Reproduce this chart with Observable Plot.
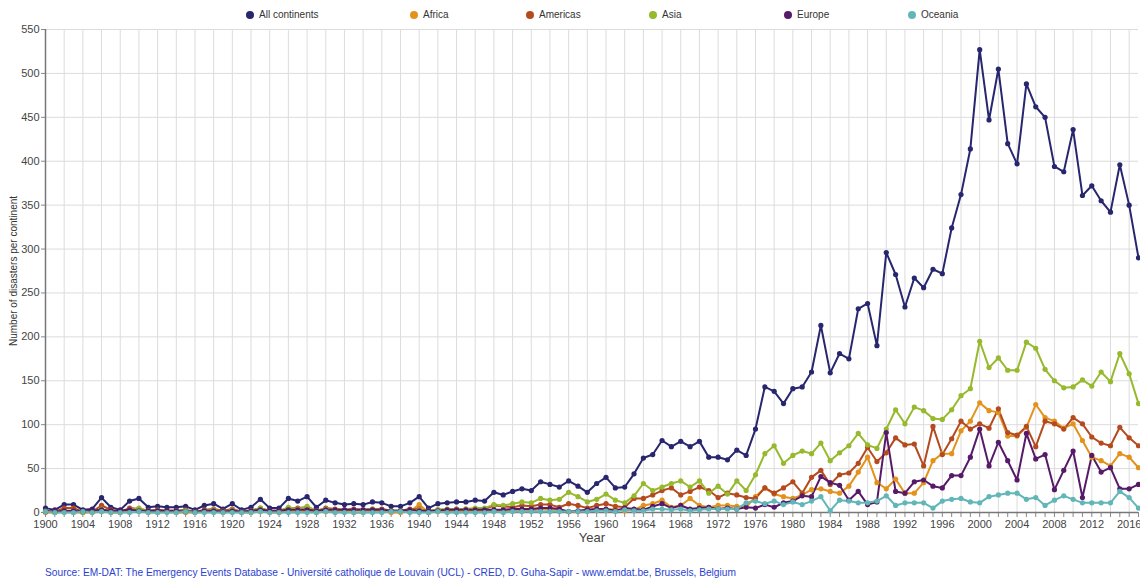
<!DOCTYPE html>
<html><head><meta charset="utf-8">
<script src="https://cdn.jsdelivr.net/npm/d3@7"></script>
<script src="https://cdn.jsdelivr.net/npm/@observablehq/plot@0.6"></script>
<style>
body{margin:0;background:#fff;font-family:"Liberation Sans",Arial,sans-serif;}
#wrap{position:relative;width:1140px;height:580px;overflow:hidden;background:#fff}
#legend{position:absolute;top:0;left:0;width:1140px;height:28px}
.li{position:absolute;top:9px;font-size:10px;color:#333;display:flex;align-items:center;white-space:nowrap;line-height:12px}
.li .dot{width:8px;height:8px;border-radius:50%;margin-right:5px;display:inline-block}
#chart{position:absolute;top:22px;left:0}
#source{position:absolute;left:45px;top:567px;font-size:10.2px;color:#2b3fd0;white-space:nowrap}
</style></head>
<body><div id="wrap"><div id="legend"></div><div id="chart"></div>
<div id="source">Source: EM-DAT: The Emergency Events Database - Université catholique de Louvain (UCL) - CRED, D. Guha-Sapir - www.emdat.be, Brussels, Belgium</div></div>
<script>
const years = d3.range(1900, 2018);
const seriesNames = ["All continents", "Africa", "Americas", "Asia", "Europe", "Oceania"];
const seriesColors = ["#27266e", "#e3921c", "#b54a1f", "#97b92d", "#561a68", "#62b6b8"];

const allContinents = [
  5,3,9,9,3,4,17,6,3,13,
  16,6,7,6,6,7,3,8,10,4,
  10,3,6,15,5,5,16,13,18,6,
  14,11,9,10,9,12,11,7,7,11,
  18,5,10,11,12,12,14,13,23,20,
  24,27,25,35,32,29,36,30,23,33,
  40,28,29,44,62,66,82,75,81,75,
  81,63,63,60,71,65,95,143,138,124,
  141,143,160,213,159,181,175,232,238,190,
  296,271,234,267,256,277,272,324,362,414,
  527,447,505,420,397,488,462,450,394,388,
  436,361,372,355,342,396,350,290
];
const africa = [
  0,0,1,0,0,0,1,0,0,2,
  4,0,0,1,0,0,0,1,1,0,
  1,0,0,1,0,0,2,1,2,0,
  1,1,1,0,0,1,1,0,0,1,
  9,0,1,1,1,1,2,1,2,2,
  3,2,2,4,3,3,1,1,2,4,
  3,4,2,3,8,10,14,6,8,16,
  8,6,8,8,7,6,18,28,21,18,
  16,20,26,27,24,22,30,46,63,34,
  27,38,22,22,34,59,67,67,93,104,
  125,116,114,87,87,97,123,108,104,96,
  101,82,63,59,53,67,63,51
];
const americas = [
  2,1,5,5,1,1,8,3,1,5,
  4,2,3,2,2,3,1,3,4,2,
  4,1,2,5,2,2,5,5,6,2,
  5,4,3,4,3,4,4,2,2,4,
  4,1,3,3,4,4,4,4,8,7,
  6,8,7,9,9,6,10,8,5,8,
  10,7,6,16,16,20,25,28,20,24,
  29,25,17,22,20,17,16,28,22,28,
  35,22,40,48,32,43,45,56,74,58,
  68,85,77,78,53,98,66,84,104,95,
  101,96,118,91,88,98,75,104,101,95,
  108,101,86,79,76,97,85,76
];
const asia = [
  1,0,1,2,0,1,4,1,0,3,
  5,2,2,1,2,2,1,2,3,1,
  3,1,2,5,1,1,6,4,7,2,
  4,3,2,3,3,4,3,2,2,3,
  3,2,3,4,4,4,5,5,9,8,
  10,12,11,16,14,15,23,18,12,15,
  21,14,11,19,33,25,29,33,36,29,
  36,22,30,21,36,25,43,67,76,56,
  65,70,67,79,59,68,76,90,77,73,
  95,117,101,120,116,107,106,117,133,141,
  195,165,176,162,162,194,187,163,150,142,
  143,151,144,160,149,181,158,124
];
const europe = [
  1,1,2,2,1,2,3,2,2,3,
  2,2,2,2,2,1,1,2,2,1,
  2,1,2,3,2,2,3,3,3,2,
  3,3,3,3,3,3,3,2,2,3,
  2,2,2,3,3,3,3,3,3,3,
  4,4,4,5,5,4,1,2,3,4,
  4,2,5,4,3,7,10,5,8,4,
  5,6,4,5,4,6,5,9,6,11,
  13,19,18,41,34,31,14,24,9,12,
  91,24,22,35,37,30,28,42,42,63,
  95,53,80,59,37,90,61,66,26,48,
  70,17,65,46,51,27,27,32
];
const oceania = [
  1,0,0,0,1,0,1,0,0,0,
  1,0,0,0,0,1,0,0,0,0,
  0,0,0,1,0,0,0,0,0,0,
  1,0,0,0,0,0,0,1,1,0,
  0,0,1,0,0,0,0,0,1,0,
  1,1,1,1,1,1,1,1,1,2,
  2,1,3,2,2,4,4,3,4,2,
  3,4,4,4,4,11,13,10,13,9,
  12,9,13,18,2,14,13,11,11,13,
  19,8,11,11,11,5,13,15,16,12,
  11,18,20,22,22,15,17,8,14,19,
  15,11,11,11,11,24,17,5
];
const yTicks = d3.range(0, 551, 50);

const seriesValues = [allContinents, africa, americas, asia, europe, oceania];
const data = seriesNames.flatMap((name, k) => seriesValues[k].map((v, i) => ({series: name, year: years[i], value: v})));

// legend
const legendLeft = [246, 410, 526, 649, 784, 908];
const legend = document.getElementById("legend");
seriesNames.forEach((n, i) => {
  const el = document.createElement("div");
  el.className = "li";
  el.style.left = legendLeft[i] + "px";
  el.innerHTML = `<span class="dot" style="background:${seriesColors[i]}"></span>${n}`;
  legend.appendChild(el);
});

const chart = Plot.plot({
  width: 1140, height: 530,
  marginTop: 7, marginBottom: 40, marginLeft: 45, marginRight: 2,
  x: {domain: [1900, 2017], label: null},
  y: {domain: [0, 550], label: null},
  color: {domain: seriesNames, range: seriesColors},
  style: {fontFamily: "Liberation Sans, Arial, sans-serif", fontSize: "11px", color: "#444", background: "#fff"},
  marks: [
    Plot.gridX(d3.range(1900, 2018, 2), {stroke: "#dcdcdc", strokeOpacity: 1}),
    Plot.gridY(yTicks, {stroke: "#dcdcdc", strokeOpacity: 1}),
    Plot.axisY(yTicks, {tickSize: 4, tickPadding: 2, label: null, stroke: "#888"}),
    Plot.axisX(years, {tickSize: 5, tickPadding: 3, tickFormat: d => d % 4 === 0 ? String(d) : "", label: null, stroke: "#888"}),
    Plot.ruleX([1900], {stroke: "#777", strokeWidth: 1.5}),
    Plot.ruleY([0], {stroke: "#777", strokeWidth: 1.5}),
    Plot.text(["Number of disasters per continent"], {frameAnchor: "left", textAnchor: "middle", dx: -32, rotate: -90, fontSize: 10, fill: "#333"}),
    Plot.text(["Year"], {frameAnchor: "bottom", dy: 29, fontSize: 13, fill: "#444"}),
    Plot.line(data, {x: "year", y: "value", z: "series", stroke: "series", strokeWidth: 2}),
    Plot.dot(data, {x: "year", y: "value", fill: "series", r: 2.6})
  ]
});
document.getElementById("chart").appendChild(chart);
</script>
</body></html>
